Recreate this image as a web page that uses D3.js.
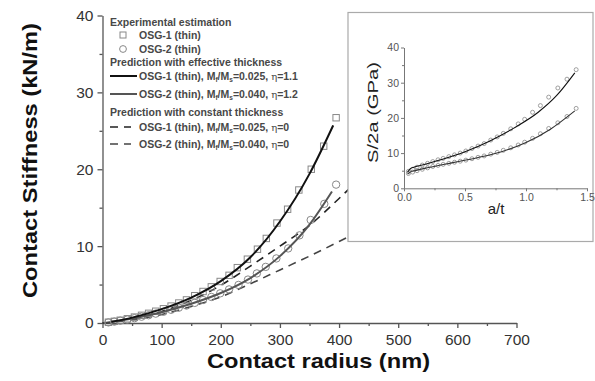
<!DOCTYPE html>
<html><head><meta charset="utf-8">
<script src="https://cdn.jsdelivr.net/npm/d3@7"></script>
<style>body{margin:0;background:#fff}svg{display:block}</style>
</head><body>
<svg id="c" width="595" height="381"></svg>
<script>
// ---- main chart data (contact radius nm, stiffness kN/m)
const expA1 = [10,20,30,42,54,66,78,90,103,116,129,142,156,170,184,199,214,228,245,262,277,295,313,332,353,374,395];
const expK1 = [0.1,0.22,0.36,0.55,0.77,1.0,1.26,1.53,1.85,2.2,2.6,3.0,3.55,4.1,4.7,5.4,6.2,7.2,8.3,9.6,11.0,13.0,14.8,17.3,20.0,23.0,26.7];
const expA2 = [10,20,30,42,54,66,78,90,103,116,129,142,156,170,184,199,214,230,246,261,276,294,314,333,352,375,395];
const expK2 = [0.08,0.18,0.3,0.45,0.63,0.82,1.01,1.22,1.46,1.72,1.99,2.27,2.62,2.99,3.39,3.86,4.37,4.95,5.65,6.45,7.3,8.4,9.7,11.4,13.4,15.5,18.0];
const fitA1 = [15,50,100,150,200,250,300,350,390];
const fitK1 = [0.15,0.7,1.8,3.3,5.45,8.55,13.2,19.4,25.7];
const fitA2 = [15,50,100,150,200,250,300,350,388];
const fitK2 = [0.12,0.58,1.4,2.5,3.9,5.85,8.7,12.8,17.1];
const constA1 = [0,50,100,150,200,250,300,350,400,430];
const constK1 = [0,0.5,1.5,2.95,4.9,7.4,10.0,12.7,16.2,18.4];
const constA2 = [0,50,100,150,200,250,300,350,400,430];
const constK2 = [0,0.42,1.1,2.15,3.4,5.1,6.9,8.7,10.6,11.8];
const xTicks = [0,100,200,300,400,500,600,700];
const yTicks = [0,10,20,30,40];
// ---- inset data (a/t, S/2a GPa)
const insAT = [0.036,0.071,0.107,0.15,0.193,0.236,0.279,0.321,0.368,0.414,0.461,0.507,0.557,0.607,0.657,0.711,0.764,0.814,0.875,0.936,0.989,1.054,1.118,1.186,1.261,1.336,1.411];
const insS1 = [4.8,5.4,6.0,6.6,7.1,7.6,8.1,8.5,9.0,9.5,10.0,10.6,11.3,12.0,12.7,13.7,14.6,15.6,16.9,18.3,19.6,21.6,23.5,25.9,28.5,31.0,33.7];
const insS2 = [4.2,4.6,5.0,5.4,5.8,6.2,6.5,6.8,7.1,7.4,7.7,8.0,8.4,8.8,9.2,9.7,10.2,10.8,11.5,12.3,13.1,14.2,15.5,17.0,18.6,20.4,22.7];
const insFitAT1 = [0.03,0.05,0.08,0.15,0.3,0.5,0.7,0.9,1.1,1.25,1.4];
const insFitS1 = [4.6,5.5,6.0,6.6,8.1,10.4,13.4,17.1,21.6,26.3,32.8];
const insFitAT2 = [0.03,0.05,0.1,0.2,0.4,0.6,0.8,1.0,1.2,1.4];
const insFitS2 = [4.0,4.6,5.1,5.9,7.3,8.7,10.4,13.0,16.8,22.0];
const insXTicks = [0,0.5,1.0,1.5];
const insYTicks = [0,10,20,30,40];

const svg = d3.select("#c");
const F = "'Liberation Sans', Arial, sans-serif";
const x = d3.scaleLinear().domain([0,700]).range([102.5,516.5]);
const y = d3.scaleLinear().domain([0,40]).range([323,15.5]);

// axes
const axC = "#555";
function styleAxis(g, fs){
  g.select(".domain").attr("stroke",axC).attr("stroke-width",1.3);
  g.selectAll(".tick line").attr("stroke",axC).attr("stroke-width",1.3);
  g.selectAll(".tick text").attr("fill","#333").attr("font-family",F).attr("font-size",fs);
}
const gx = svg.append("g").attr("transform","translate(0,323)")
  .call(d3.axisBottom(x).tickValues(xTicks).tickSize(5).tickPadding(6).tickSizeOuter(0));
styleAxis(gx,15.5);
svg.append("g").attr("transform","translate(0,323)")
  .call(d3.axisBottom(x).tickValues(d3.range(50,700,100)).tickSize(3).tickFormat("").tickSizeOuter(0))
  .call(g=>{g.select(".domain").remove();g.selectAll("line").attr("stroke",axC).attr("stroke-width",1.3);});
const gy = svg.append("g").attr("transform","translate(102.5,0)")
  .call(d3.axisLeft(y).tickValues(yTicks).tickSize(5).tickPadding(4).tickSizeOuter(0));
styleAxis(gy,15.5);
svg.append("g").attr("transform","translate(102.5,0)")
  .call(d3.axisLeft(y).tickValues([5,15,25,35]).tickSize(3).tickFormat("").tickSizeOuter(0))
  .call(g=>{g.select(".domain").remove();g.selectAll("line").attr("stroke",axC).attr("stroke-width",1.3);});

// axis titles
svg.append("text").attr("x",318.5).attr("y",368).attr("text-anchor","middle")
  .attr("font-family",F).attr("font-weight","bold").attr("font-size",20.5).attr("fill","#111")
  .attr("textLength",223).attr("lengthAdjust","spacingAndGlyphs").text("Contact radius (nm)");
svg.append("text").attr("transform","translate(37,160.5) rotate(-90)").attr("text-anchor","middle")
  .attr("font-family",F).attr("font-weight","bold").attr("font-size",20.5).attr("fill","#111")
  .attr("textLength",275).attr("lengthAdjust","spacingAndGlyphs").text("Contact Stiffness (kN/m)");

// lines
const line = d3.line().x(d=>x(d[0])).y(d=>y(d[1])).curve(d3.curveMonotoneX);
const zip = (a,b)=>a.map((v,i)=>[v,b[i]]);
svg.append("path").datum(zip(constA1,constK1)).attr("d",line).attr("fill","none")
  .attr("stroke","#222").attr("stroke-width",1.6).attr("stroke-dasharray","8,6");
svg.append("path").datum(zip(constA2,constK2)).attr("d",line).attr("fill","none")
  .attr("stroke","#444").attr("stroke-width",1.6).attr("stroke-dasharray","8,6");
// markers
svg.append("g").selectAll("rect").data(zip(expA1,expK1)).join("rect")
  .attr("x",d=>x(d[0])-3.2).attr("y",d=>y(d[1])-3.2).attr("width",6.4).attr("height",6.4)
  .attr("fill","none").attr("stroke","#888").attr("stroke-width",1);
svg.append("g").selectAll("circle").data(zip(expA2,expK2)).join("circle")
  .attr("cx",d=>x(d[0])).attr("cy",d=>y(d[1])).attr("r",3.7)
  .attr("fill","none").attr("stroke","#888").attr("stroke-width",1);
svg.append("path").datum(zip(fitA2,fitK2)).attr("d",line).attr("fill","none")
  .attr("stroke","#555").attr("stroke-width",2);
svg.append("path").datum(zip(fitA1,fitK1)).attr("d",line).attr("fill","none")
  .attr("stroke","#111").attr("stroke-width",2);

// legend
const LG = svg.append("g").attr("font-family",F).attr("font-size",10.5).attr("font-weight","bold").attr("fill","#484848");
LG.append("text").attr("x",110).attr("y",26).text("Experimental estimation");
LG.append("rect").attr("x",120).attr("y",32).attr("width",6).attr("height",6).attr("fill","none").attr("stroke","#888");
LG.append("text").attr("x",139).attr("y",39).text("OSG-1 (thin)");
LG.append("circle").attr("cx",123).attr("cy",49).attr("r",3.4).attr("fill","none").attr("stroke","#888");
LG.append("text").attr("x",139).attr("y",53).text("OSG-2 (thin)");
LG.append("text").attr("x",110).attr("y",66).text("Prediction with effective thickness");
LG.append("text").attr("x",110).attr("y",116).text("Prediction with constant thickness");
const items = [
  {yy:76, lab:"OSG-1", r:"0.025", eta:"1.1", col:"#111", dash:null},
  {yy:94, lab:"OSG-2", r:"0.040", eta:"1.2", col:"#555", dash:null},
  {yy:127, lab:"OSG-1", r:"0.025", eta:"0", col:"#222", dash:"8,6"},
  {yy:144, lab:"OSG-2", r:"0.040", eta:"0", col:"#444", dash:"8,6"}
];
items.forEach(it=>{
  LG.append("line").attr("x1",110).attr("x2",it.dash?131:137).attr("y1",it.yy).attr("y2",it.yy)
    .attr("stroke",it.col).attr("stroke-width",it.dash?1.6:2).attr("stroke-dasharray",it.dash);
  const t = LG.append("text").attr("x",139).attr("y",it.yy+3.8);
  t.append("tspan").text(it.lab+" (thin), M");
  t.append("tspan").attr("font-size",6.5).attr("dy",2).text("f");
  t.append("tspan").attr("dy",-2).text("/M");
  t.append("tspan").attr("font-size",6.5).attr("dy",2).text("s");
  t.append("tspan").attr("dy",-2).text("="+it.r+", ");
  t.append("tspan").attr("font-family","'DejaVu Serif', serif").attr("font-weight","normal").attr("font-size",10).text("η");
  t.append("tspan").text("="+it.eta);
});

// inset
svg.append("rect").attr("x",348).attr("y",12.5).attr("width",245).attr("height",229)
  .attr("fill","#fff").attr("stroke","#aaa").attr("stroke-width",1.2);
const ix = d3.scaleLinear().domain([0,1.5]).range([404,587]);
const iy = d3.scaleLinear().domain([0,40]).range([188.3,47.5]);
const iaC = "#777";
function styleIn(g){
  g.select(".domain").attr("stroke",iaC).attr("stroke-width",1);
  g.selectAll(".tick line").attr("stroke",iaC).attr("stroke-width",1);
  g.selectAll(".tick text").attr("fill","#555").attr("font-family",F).attr("font-size",10.5);
}
const igx = svg.append("g").attr("transform","translate(0,188.3)")
  .call(d3.axisBottom(ix).tickValues(insXTicks).tickFormat(d3.format(".1f")).tickSize(3).tickPadding(2).tickSizeOuter(0));
styleIn(igx);
svg.append("g").attr("transform","translate(0,188.3)")
  .call(d3.axisBottom(ix).tickValues([0.25,0.75,1.25]).tickSize(2).tickFormat("").tickSizeOuter(0))
  .call(g=>{g.select(".domain").remove();g.selectAll("line").attr("stroke",iaC);});
const igy = svg.append("g").attr("transform","translate(404,0)")
  .call(d3.axisLeft(iy).tickValues(insYTicks).tickSize(3).tickPadding(2).tickSizeOuter(0));
styleIn(igy);
svg.append("g").attr("transform","translate(404,0)")
  .call(d3.axisLeft(iy).tickValues([5,15,25,35]).tickSize(2).tickFormat("").tickSizeOuter(0))
  .call(g=>{g.select(".domain").remove();g.selectAll("line").attr("stroke",iaC);});
svg.append("text").attr("x",496).attr("y",214).attr("text-anchor","middle")
  .attr("font-family",F).attr("font-size",15).attr("fill","#222").text("a/t");
svg.append("text").attr("transform","translate(378,112.5) rotate(-90)").attr("text-anchor","middle")
  .attr("font-family",F).attr("font-size",15).attr("fill","#222")
  .attr("textLength",101).attr("lengthAdjust","spacingAndGlyphs").text("S/2a (GPa)");
const iline = d3.line().x(d=>ix(d[0])).y(d=>iy(d[1])).curve(d3.curveMonotoneX);
[[insS1],[insS2]].forEach(([s])=>{
  svg.append("g").selectAll("circle").data(zip(insAT,s)).join("circle")
    .attr("cx",d=>ix(d[0])).attr("cy",d=>iy(d[1])).attr("r",2)
    .attr("fill","none").attr("stroke","#888").attr("stroke-width",0.8);
});
svg.append("path").datum(zip(insFitAT1,insFitS1)).attr("d",iline).attr("fill","none").attr("stroke","#111").attr("stroke-width",1.1);
svg.append("path").datum(zip(insFitAT2,insFitS2)).attr("d",iline).attr("fill","none").attr("stroke","#333").attr("stroke-width",1.1);
</script>
</body></html>
